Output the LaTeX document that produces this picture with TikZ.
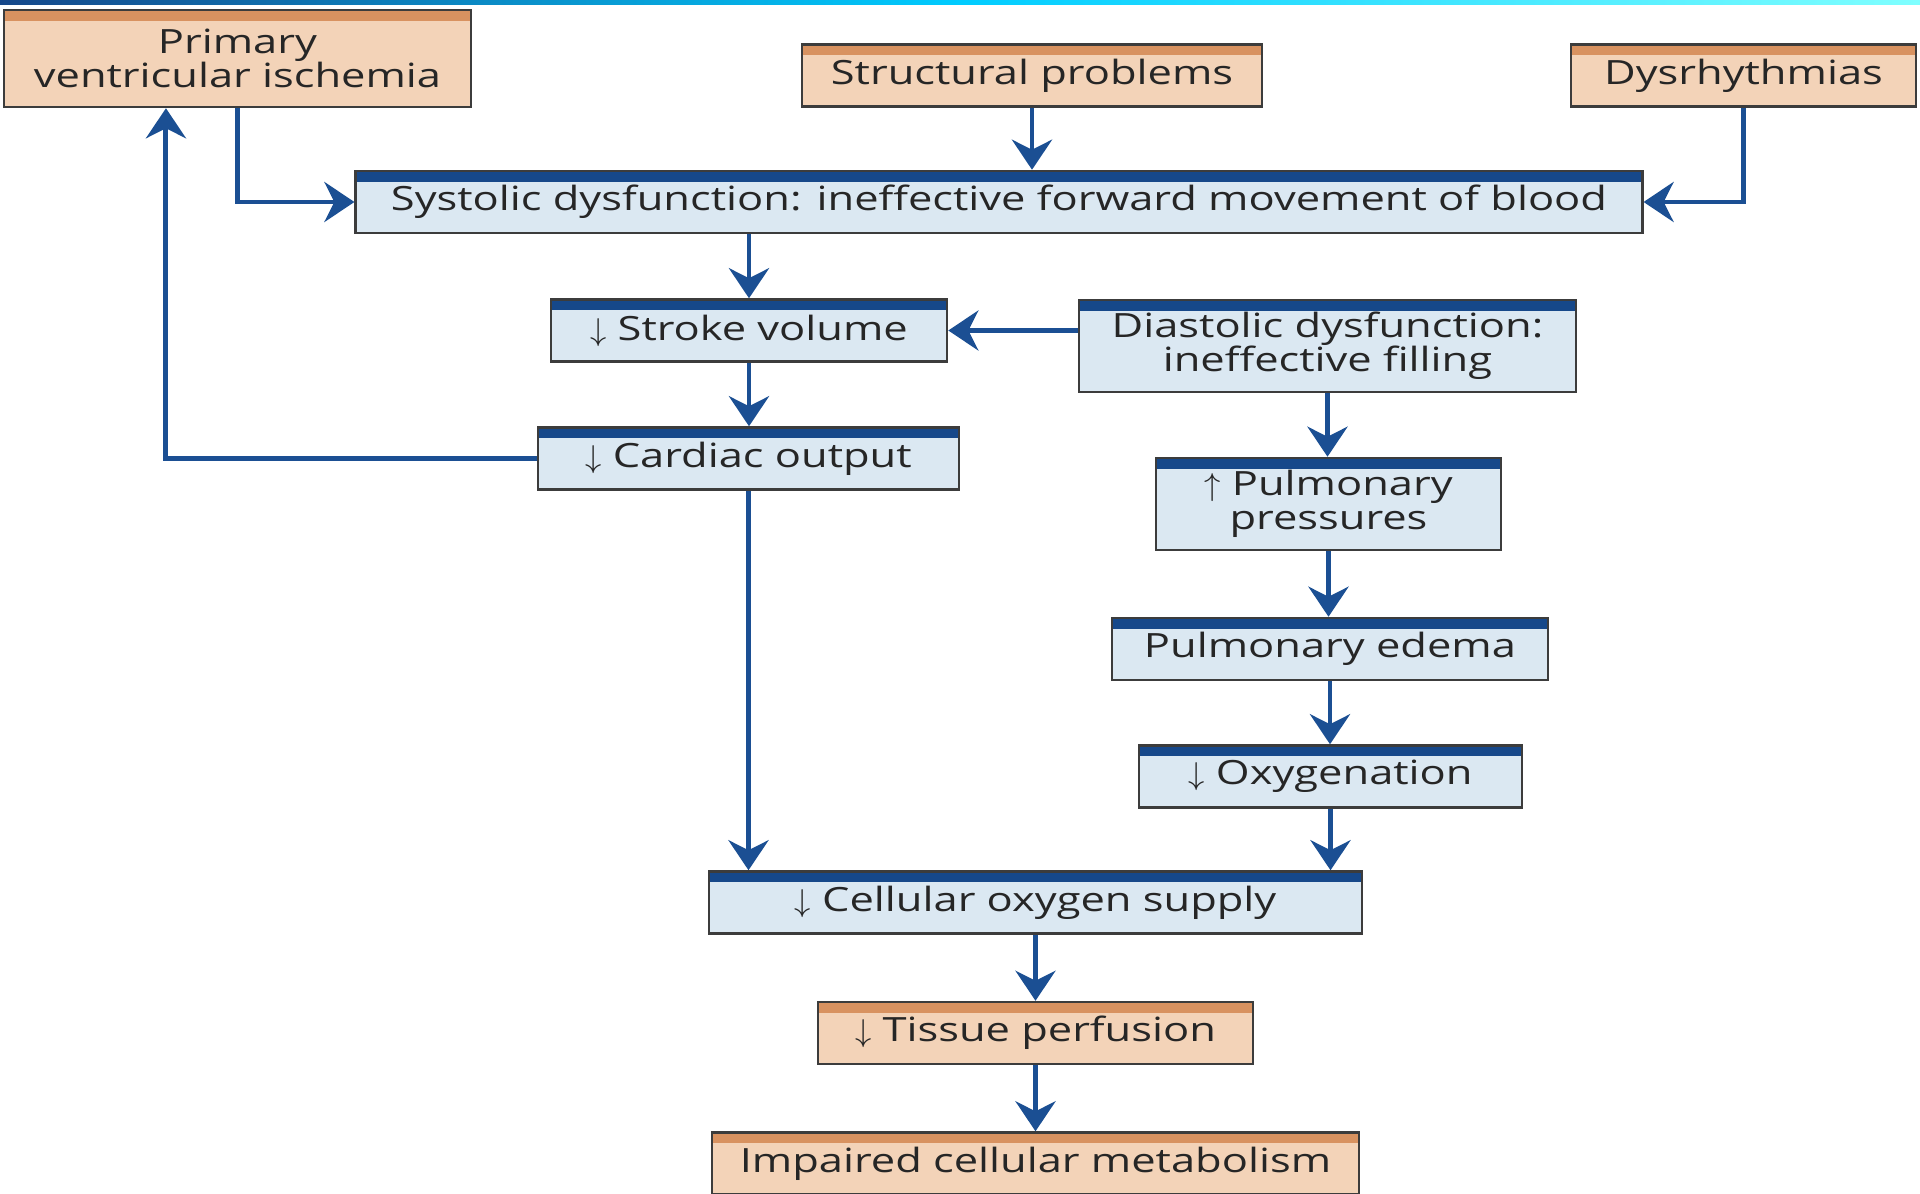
\documentclass[tikz,border=0pt]{standalone}
\usepackage{fontspec}
\setmainfont{Open Sans}[FakeStretch=1.3]
\usetikzlibrary{positioning, arrows.meta}

\definecolor{boxblue}{RGB}{219,232,242}
\definecolor{boxorange}{RGB}{243,211,184}
\definecolor{topblue}{RGB}{22,72,138}
\definecolor{toporange}{RGB}{216,146,96}
\definecolor{arrowblue}{RGB}{27,79,147}
\definecolor{edge}{RGB}{60,60,60}

\begin{document}
\begin{tikzpicture}[x=0.01cm, y=-0.01cm,
  cell/.style={rectangle, draw=edge, line width=0.7pt, align=center, inner sep=2pt, minimum height=0.62cm, text=black!85, font=\fontsize{9.5pt}{9.8pt}\selectfont},
  bluecell/.style={cell, fill=boxblue, path picture={\draw[topblue, line width=6pt] (path picture bounding box.north west) -- (path picture bounding box.north east);}},
  orangecell/.style={cell, fill=boxorange, path picture={\draw[toporange, line width=6pt] (path picture bounding box.north west) -- (path picture bounding box.north east);}},
  flow/.style={->, >={Stealth[length=0.3cm, width=0.4cm, inset=0.1cm]}, line width=1.4pt, arrowblue}]

\useasboundingbox (0,0) rectangle (1920,1194);
\shade[left color=topblue, right color=cyan!50, middle color=cyan!80!blue] (0,0) rectangle (1920,5);

% causes
\node[orangecell, minimum width=4.67cm, minimum height=0.97cm] at (237.5,58.5) (pvi) {Primary\\ventricular ischemia};
\node[orangecell, minimum width=4.60cm] at (1032,75.5) (struct) {Structural problems};
\node[orangecell, minimum width=3.45cm] at (1743.5,75.5) (dys) {Dysrhythmias};

\node[bluecell, minimum width=12.86cm] at (999,202) (sys) {Systolic dysfunction: ineffective forward movement of blood};

\node[bluecell, minimum width=3.96cm] at (749,330.5) (sv) {$\downarrow$ Stroke volume};
\node[bluecell, minimum width=4.97cm, minimum height=0.92cm] at (1327.5,346) (dd) {Diastolic dysfunction:\\ineffective filling};
\node[bluecell, minimum width=4.21cm] at (748.5,458.5) (co) {$\downarrow$ Cardiac output};

% right branch
\node[bluecell, minimum width=3.45cm, minimum height=0.92cm] at (1328.5,504) (pp) {$\uparrow$ Pulmonary\\pressures};
\node[bluecell, minimum width=4.36cm] at (1330,649) (pe) {Pulmonary edema};
\node[bluecell, minimum width=3.83cm] at (1330.5,776.5) (oxy) {$\downarrow$ Oxygenation};

% outcome
\node[bluecell, minimum width=6.53cm] at (1035.5,902.5) (cos) {$\downarrow$ Cellular oxygen supply};
\node[orangecell, minimum width=4.35cm, below = 0.66cm of cos] (tp) {$\downarrow$ Tissue perfusion};
\node[orangecell, minimum width=6.47cm, below = 0.66cm of tp] (icm) {Impaired cellular metabolism};

\draw[flow] (pvi.south) |- (sys.west);
\draw[flow] (struct.south) -- (struct.south |- sys.north);
\draw[flow] (dys.south) |- (sys.east);

\draw[flow] (sys.south -| sv.north) -- (sv.north);
\draw[flow] (dd.west |- sv.east) -- (sv.east);
\draw[flow] (sv.south) -- (sv.south |- co.north);
\draw[flow] (co.west) -| ([xshift=-0.715cm]pvi.south);
\draw[flow] (co.south) -- (co.south |- cos.north);

\draw[flow] (dd.south) -- (dd.south |- pp.north);
\draw[flow] (pp.south) -- (pp.south |- pe.north);
\draw[flow] (pe.south) -- (pe.south |- oxy.north);
\draw[flow] (oxy.south) -- (oxy.south |- cos.north);

\draw[flow] (cos.south) -- (tp.north);
\draw[flow] (tp.south) -- (icm.north);
\end{tikzpicture}
\end{document}
